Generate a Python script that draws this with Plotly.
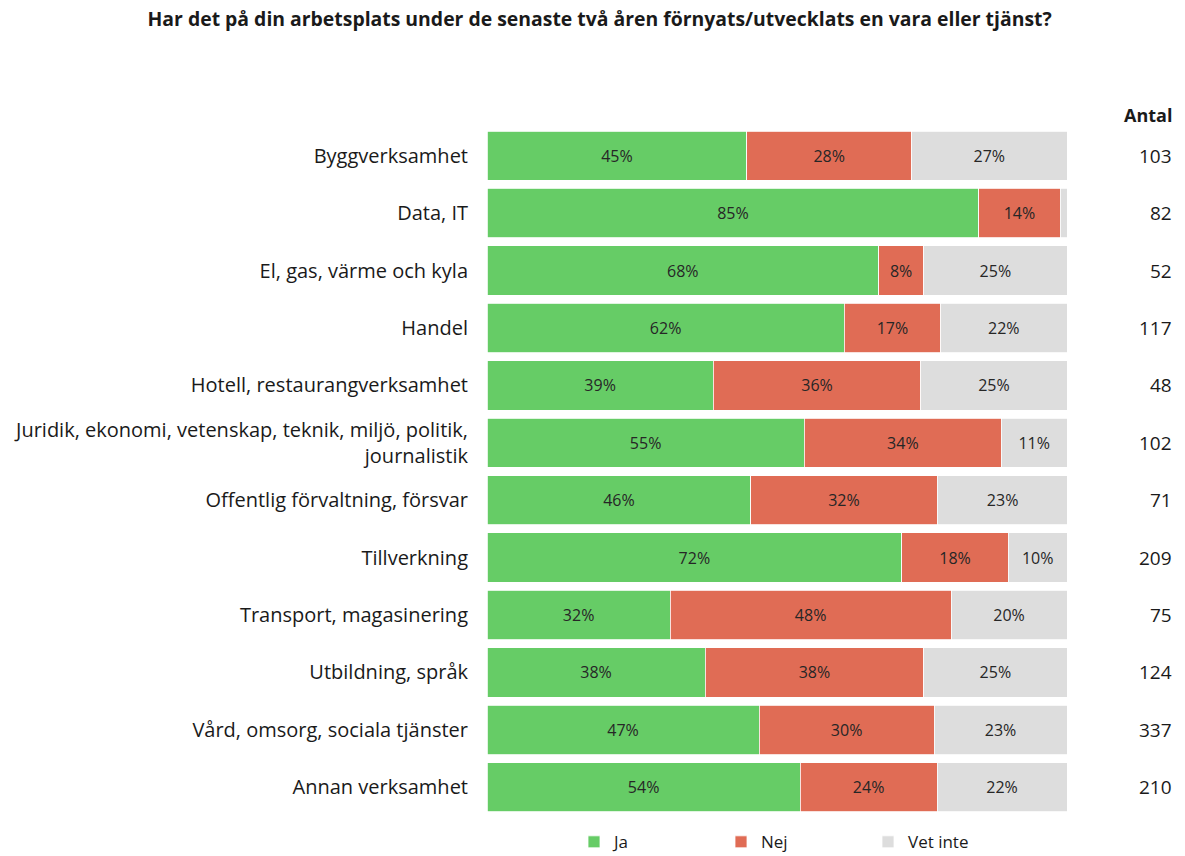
import plotly.graph_objects as go

categories = [
    "Byggverksamhet",
    "Data, IT",
    "El, gas, värme och kyla",
    "Handel",
    "Hotell, restaurangverksamhet",
    "Juridik, ekonomi, vetenskap, teknik, miljö, politik,<br>journalistik",
    "Offentlig förvaltning, försvar",
    "Tillverkning",
    "Transport, magasinering",
    "Utbildning, språk",
    "Vård, omsorg, sociala tjänster",
    "Annan verksamhet",
]
ja = [44.8, 84.8, 67.5, 61.6, 39.0, 54.7, 45.5, 71.5, 31.6, 37.6, 46.9, 54.0]
nej = [28.4, 14.0, 7.8, 16.6, 35.8, 34.0, 32.1, 18.4, 48.4, 37.7, 30.2, 23.6]
vet_inte = [26.8, 1.2, 24.7, 21.8, 25.2, 11.3, 22.6, 10.1, 20.0, 24.7, 22.9, 22.4]
antal = [103, 82, 52, 117, 48, 102, 71, 209, 75, 124, 337, 210]

title = "Har det på din arbetsplats under de senaste två åren förnyats/utvecklats en vara eller tjänst?"
FONT = "Open Sans"
TXT = "#1a1a1a"

def labels(vals):
    return [f"{round(v)}%" if v >= 3 else "" for v in vals]

fig = go.Figure()
series = [("Ja", ja, "#66CC66"), ("Nej", nej, "#E06C55"), ("Vet inte", vet_inte, "#DDDDDD")]
for name, vals, color in series:
    fig.add_trace(go.Bar(
        name=name, y=categories, x=vals, orientation="h",
        marker=dict(color=color, line=dict(color="white", width=0.8)),
        text=labels(vals), textposition="inside", insidetextanchor="middle",
        textangle=0, constraintext="none",
        textfont=dict(family=FONT, size=16, color="#262626"),
        hoverinfo="x+y+name",
    ))

annotations = []
for cat, n in zip(categories, antal):
    annotations.append(dict(
        x=1.1845, xref="paper", y=cat, yref="y", text=str(n),
        showarrow=False, xanchor="right", yanchor="middle",
        font=dict(family=FONT, size=19, color=TXT),
    ))
annotations.append(dict(
    x=1.1845, xref="paper", y=1.0, yref="paper", yshift=-2, text="<b>Antal</b>",
    showarrow=False, xanchor="right", yanchor="bottom",
    font=dict(family=FONT, size=18, color=TXT),
))

fig.update_layout(
    width=1185, height=856,
    barmode="stack", bargap=0.14,
    plot_bgcolor="white", paper_bgcolor="white",
    margin=dict(l=487, r=118, t=127, b=40, autoexpand=False),
    title=dict(text=f"<b>{title}</b>", x=0.506, xanchor="center", y=0.978, yanchor="middle",
               font=dict(family=FONT, size=19.4, color=TXT)),
    xaxis=dict(range=[0, 100], visible=False, fixedrange=True),
    yaxis=dict(autorange="reversed", showgrid=False, showline=False, ticks="",
               ticklabelstandoff=18, tickfont=dict(family=FONT, size=20, color=TXT)),
    legend=dict(orientation="h", x=0.15, xanchor="left", y=-0.012, yanchor="top",
                traceorder="normal", entrywidth=102, entrywidthmode="pixels",
                font=dict(family=FONT, size=17, color=TXT)),
    annotations=annotations,
    showlegend=True,
)

fig.write_html("out.html", config={"displayModeBar": False},
               post_script="document.body.style.margin='0';")
